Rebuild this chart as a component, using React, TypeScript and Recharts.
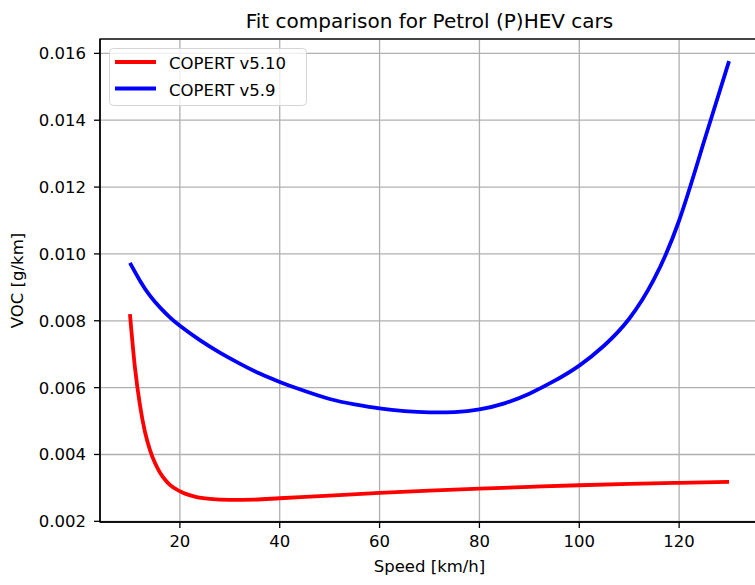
import React from 'react';
import { LineChart, Line, XAxis, YAxis, CartesianGrid, Legend, Customized } from 'recharts';

const FONT = '"DejaVu Sans", sans-serif';

const redSpeeds = [10, 11, 12, 13, 14, 15, 16, 17, 18, 20, 23, 26, 30, 35, 40, 50, 60, 70, 80, 90, 100, 110, 120, 130];
const redVoc = [0.0082, 0.0066, 0.00548, 0.00468, 0.00414, 0.00375, 0.00346, 0.00325, 0.00309, 0.0029, 0.00274, 0.00267, 0.00264, 0.00265, 0.00269, 0.00277, 0.00285, 0.00292, 0.00298, 0.00303, 0.00308, 0.00312, 0.00315, 0.00318];

const blueSpeeds = [10, 12, 14, 16, 18, 20, 24, 28, 32, 36, 40, 44, 50, 55, 60, 65, 70, 75, 80, 85, 90, 95, 100, 105, 110, 115, 120, 125, 130];
const blueVoc = [0.00973, 0.0092, 0.00875, 0.0084, 0.0081, 0.00785, 0.00742, 0.00705, 0.00672, 0.00642, 0.00617, 0.00595, 0.00566, 0.0055, 0.00538, 0.0053, 0.00526, 0.00527, 0.00535, 0.00553, 0.00582, 0.0062, 0.00666, 0.00726, 0.00806, 0.00925, 0.011, 0.01337, 0.01577];

const xTicks = [20, 40, 60, 80, 100, 120];
const yTicks = [0.002, 0.004, 0.006, 0.008, 0.01, 0.012, 0.014, 0.016];

const seriesNames = ['COPERT v5.10', 'COPERT v5.9'];
const seriesColors = ['#ff0000', '#0000ff'];
const title = 'Fit comparison for Petrol (P)HEV cars';
const xLabel = 'Speed [km/h]';
const yLabel = 'VOC [g/km]';

const redData = redSpeeds.map((s, i) => ({ speed: s, voc: redVoc[i] }));
const blueData = blueSpeeds.map((s, i) => ({ speed: s, voc: blueVoc[i] }));

const W = 759;
const H = 585;
const LEFT = 100;
const TOP = 39;
const XAXIS_H = 63;
const PLOT_W = W - LEFT;
const PLOT_H = H - TOP - XAXIS_H;

const XTick = (props: any) => {
  const { x, y, payload } = props;
  return (
    <text x={x} y={y} dy="0.71em" textAnchor="middle" fontFamily={FONT} fontSize={16.5} fill="#000">
      {payload.value}
    </text>
  );
};

const YTick = (props: any) => {
  const { x, y, payload } = props;
  return (
    <text x={x} y={y} dy="0.36em" textAnchor="end" fontFamily={FONT} fontSize={16.5} fill="#000">
      {Number(payload.value).toFixed(3)}
    </text>
  );
};

const XLabel = (props: any) => {
  const vb = props.viewBox || {};
  return (
    <text x={vb.x + vb.width / 2} y={vb.y + 50} textAnchor="middle" fontFamily={FONT} fontSize={16.5} fill="#000">
      {xLabel}
    </text>
  );
};

const YLabel = (props: any) => {
  const vb = props.viewBox || {};
  const cx = vb.x + 23;
  const cy = vb.y + vb.height / 2;
  return (
    <text x={cx} y={cy} textAnchor="middle" transform={`rotate(-90, ${cx}, ${cy})`} fontFamily={FONT} fontSize={16.5} fill="#000">
      {yLabel}
    </text>
  );
};

const Frame = () => (
  <g>
    <text x={LEFT + PLOT_W / 2} y={28} textAnchor="middle" fontFamily={FONT} fontSize={20} fill="#000">
      {title}
    </text>
    <rect x={LEFT} y={TOP} width={PLOT_W} height={PLOT_H} fill="none" stroke="#000" strokeWidth={1.3} />
  </g>
);

const LegendBox = () => (
  <div style={{ width: 198, height: 58, position: 'relative' }}>
    <svg width={198} height={58} style={{ display: 'block' }}>
      <rect x={0.5} y={0.5} width={197} height={57} rx={4} ry={4} fill="rgba(255,255,255,0.8)" stroke="#d5d5d5" strokeWidth={1} />
      {seriesNames.map((n, i) => (
        <g key={n}>
          <line x1={6} x2={47} y1={14 + i * 26.5} y2={14 + i * 26.5} stroke={seriesColors[i]} strokeWidth={3.8} />
          <text x={60} y={21 + i * 26.5} fontFamily={FONT} fontSize={16.5} fill="#000">
            {n}
          </text>
        </g>
      ))}
    </svg>
  </div>
);

export default function App() {
  return (
    <div style={{ position: 'fixed', left: 0, top: 0, width: 755, height: 585, overflow: 'hidden', background: '#fff' }}>
      <LineChart width={W} height={H} margin={{ top: TOP, right: 0, bottom: 0, left: 0 }}>
        <CartesianGrid stroke="#b0b0b0" strokeWidth={1.3} />
        <XAxis
          type="number"
          dataKey="speed"
          domain={[4, 136]}
          ticks={xTicks}
          allowDataOverflow
          height={XAXIS_H}
          tickSize={6}
          tickMargin={7}
          tick={<XTick />}
          tickLine={{ stroke: '#000', strokeWidth: 1.3 }}
          axisLine={{ stroke: '#000', strokeWidth: 1.3 }}
          label={<XLabel />}
        />
        <YAxis
          type="number"
          dataKey="voc"
          domain={[0.00198, 0.01643]}
          ticks={yTicks}
          allowDataOverflow
          width={LEFT}
          tickSize={6}
          tickMargin={8}
          tick={<YTick />}
          tickLine={{ stroke: '#000', strokeWidth: 1.3 }}
          axisLine={{ stroke: '#000', strokeWidth: 1.3 }}
          label={<YLabel />}
        />
        <Line data={redData} dataKey="voc" name={seriesNames[0]} type="monotone" stroke={seriesColors[0]} strokeWidth={3.8} dot={false} isAnimationActive={false} />
        <Line data={blueData} dataKey="voc" name={seriesNames[1]} type="natural" stroke={seriesColors[1]} strokeWidth={3.8} dot={false} isAnimationActive={false} />
        <Customized component={<Frame />} />
        <Legend
          layout="vertical"
          align="center"
          verticalAlign="middle"
          wrapperStyle={{ left: 109, top: 48, width: 198, height: 58 }}
          content={<LegendBox />}
        />
      </LineChart>
    </div>
  );
}
